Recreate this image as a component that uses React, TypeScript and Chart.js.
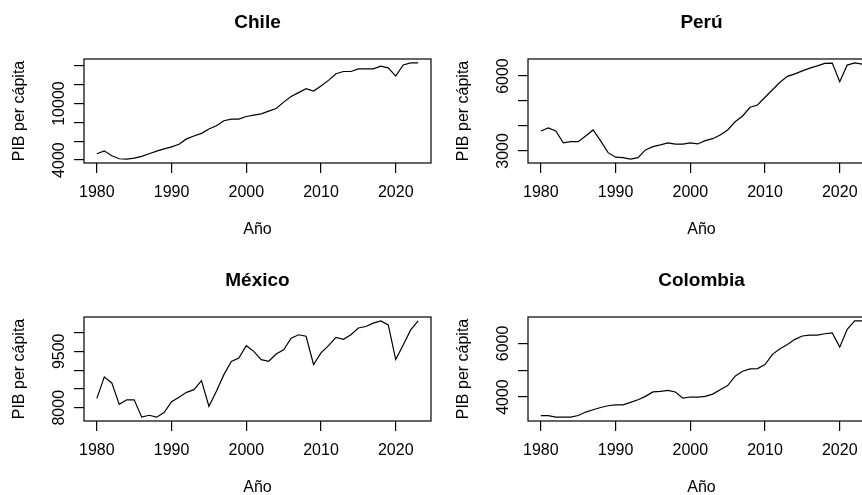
import React, { useEffect, useRef } from "react";
import { Chart, registerables } from "chart.js";

Chart.register(...registerables);

const years = [
  1980, 1981, 1982, 1983, 1984, 1985, 1986, 1987, 1988, 1989,
  1990, 1991, 1992, 1993, 1994, 1995, 1996, 1997, 1998, 1999,
  2000, 2001, 2002, 2003, 2004, 2005, 2006, 2007, 2008, 2009,
  2010, 2011, 2012, 2013, 2014, 2015, 2016, 2017, 2018, 2019,
  2020, 2021, 2022, 2023,
];

const chile = [
  4670, 4980, 4460, 4140, 4100, 4210, 4390, 4670, 4950, 5190,
  5400, 5680, 6250, 6560, 6840, 7300, 7650, 8180, 8350, 8350,
  8630, 8770, 8910, 9190, 9470, 10150, 10740, 11160, 11580, 11330,
  11860, 12460, 13160, 13400, 13400, 13680, 13680, 13680, 13960, 13790,
  12910, 14100, 14320, 14320,
];

const peru = [
  3800, 3920, 3800, 3320, 3370, 3370, 3600, 3840, 3400, 2930,
  2750, 2730, 2670, 2730, 3040, 3170, 3240, 3320, 3270, 3270,
  3320, 3280, 3410, 3490, 3640, 3840, 4170, 4400, 4750, 4840,
  5150, 5450, 5750, 5990, 6090, 6210, 6320, 6410, 6510, 6520,
  5770, 6440, 6530, 6480,
];

const mexico = [
  8250, 8820, 8660, 8090, 8210, 8210, 7750, 7800, 7750, 7870,
  8160, 8280, 8410, 8480, 8720, 8040, 8440, 8880, 9230, 9320,
  9650, 9500, 9280, 9235, 9430, 9540, 9850, 9940, 9900, 9150,
  9460, 9650, 9870, 9820, 9940, 10120, 10160, 10250, 10310, 10200,
  9280, 9670, 10070, 10310,
];

const colombia = [
  3310, 3310, 3250, 3250, 3250, 3310, 3440, 3525, 3610, 3675,
  3710, 3710, 3800, 3900, 4025, 4190, 4210, 4250, 4190, 3960,
  4000, 4000, 4025, 4110, 4275, 4425, 4775, 4960, 5050, 5060,
  5210, 5590, 5800, 5960, 6150, 6275, 6310, 6310, 6360, 6390,
  5860, 6525, 6840, 6840,
];

const yearTicks = [1980, 1990, 2000, 2010, 2020];

const chileTicks = [4000, 6000, 8000, 10000, 12000, 14000];
const chileTickLabels = [4000, 10000];
const peruTicks = [3000, 4000, 5000, 6000];
const peruTickLabels = [3000, 6000];
const mexicoTicks = [8000, 8500, 9000, 9500, 10000];
const mexicoTickLabels = [8000, 9500];
const colombiaTicks = [4000, 5000, 6000];
const colombiaTickLabels = [4000, 6000];

const xTitle = "Año";
const yTitle = "PIB per cápita";

const FONT = '"Liberation Sans", Arial, Helvetica, sans-serif';
Chart.defaults.font.family = FONT;

const PANEL_W = 444;
const PANEL_H = 258;

function rRange(vals: number[]): [number, number] {
  const lo = Math.min(...vals);
  const hi = Math.max(...vals);
  const d = (hi - lo) * 0.04;
  return [lo - d, hi + d];
}

const rBoxPlugin = {
  id: "rBox",
  afterDraw(chart: any, _args: any, opts: any) {
    const { ctx, chartArea: a } = chart;
    ctx.save();
    ctx.strokeStyle = "#000";
    ctx.lineWidth = 1.2;
    ctx.strokeRect(a.left, a.top, a.right - a.left, a.bottom - a.top);
    const ys = chart.scales.y;
    ctx.font = `16px ${FONT}`;
    ctx.fillStyle = "#000";
    ctx.textAlign = "center";
    ctx.textBaseline = "middle";
    for (const v of opts.labels || []) {
      const py = ys.getPixelForValue(v);
      ctx.save();
      ctx.translate(a.left - 24.5, py);
      ctx.rotate(-Math.PI / 2);
      ctx.fillText(String(v), 0, 0);
      ctx.restore();
    }
    ctx.restore();
  },
};

type PanelProps = {
  title: string;
  values: number[];
  ticks: number[];
  tickLabels: number[];
  left: number;
  top: number;
};

function Panel({ title, values, ticks, tickLabels, left, top }: PanelProps) {
  const ref = useRef<HTMLCanvasElement | null>(null);
  useEffect(() => {
    if (!ref.current) return;
    const [xmin, xmax] = rRange(years);
    const [ymin, ymax] = rRange(values);
    const chart = new Chart(ref.current, {
      type: "line",
      data: {
        datasets: [
          {
            data: years.map((y, i) => ({ x: y, y: values[i] })),
            borderColor: "#000",
            borderWidth: 1.2,
            pointRadius: 0,
            tension: 0,
            fill: false,
          },
        ],
      },
      options: {
        animation: false,
        responsive: false,
        devicePixelRatio: 1,
        layout: { padding: { left: 0, top: 0, right: 13, bottom: 0 } },
        plugins: {
          legend: { display: false },
          tooltip: { enabled: false },
          title: {
            display: true,
            text: title,
            fullSize: false,
            color: "#000",
            font: { size: 19, weight: "bold", family: FONT, lineHeight: 1.2 },
            padding: { top: 11.3, bottom: 24.9 },
          },
          rBox: { labels: tickLabels },
        } as any,
        scales: {
          x: {
            type: "linear",
            min: xmin,
            max: xmax,
            afterBuildTicks: (s: any) => {
              s.ticks = yearTicks.map((v) => ({ value: v }));
            },
            afterFit: (s: any) => {
              s.height = PANEL_H - 163;
            },
            border: { display: false },
            grid: {
              display: true,
              drawOnChartArea: false,
              drawTicks: true,
              tickLength: 10,
              color: "#000",
              lineWidth: 1.2,
            },
            ticks: {
              color: "#000",
              font: { size: 16, family: FONT, lineHeight: 1.2 },
              padding: 9.7,
              maxRotation: 0,
              minRotation: 0,
              autoSkip: false,
              callback: (v: any) => String(v),
            },
            title: {
              display: true,
              text: xTitle,
              color: "#000",
              font: { size: 16, family: FONT, lineHeight: 1.2 },
              padding: { top: 0, bottom: 18.4 },
            },
          },
          y: {
            type: "linear",
            min: ymin,
            max: ymax,
            afterBuildTicks: (s: any) => {
              s.ticks = ticks.map((v) => ({ value: v }));
            },
            afterFit: (s: any) => {
              s.width = 84;
            },
            border: { display: false },
            grid: {
              display: true,
              drawOnChartArea: false,
              drawTicks: true,
              tickLength: 10,
              color: "#000",
              lineWidth: 1.2,
            },
            ticks: { display: false },
            title: {
              display: true,
              text: yTitle,
              color: "#000",
              font: { size: 16, family: FONT, lineHeight: 1.2 },
              padding: { top: 10.4, bottom: 0 },
            },
          },
        },
      },
      plugins: [rBoxPlugin],
    } as any);
    return () => chart.destroy();
  }, [title, values, ticks, tickLabels]);

  return (
    <canvas
      ref={ref}
      width={PANEL_W}
      height={PANEL_H}
      style={{
        position: "absolute",
        left,
        top,
        width: PANEL_W,
        height: PANEL_H,
      }}
    />
  );
}

export default function App() {
  return (
    <div
      style={{
        position: "fixed",
        left: 0,
        top: 0,
        width: 862,
        height: 495,
        overflow: "hidden",
        background: "#fff",
      }}
    >
      <Panel title="Chile" values={chile} ticks={chileTicks} tickLabels={chileTickLabels} left={0} top={0} />
      <Panel title="Perú" values={peru} ticks={peruTicks} tickLabels={peruTickLabels} left={PANEL_W} top={0} />
      <Panel title="México" values={mexico} ticks={mexicoTicks} tickLabels={mexicoTickLabels} left={0} top={PANEL_H} />
      <Panel title="Colombia" values={colombia} ticks={colombiaTicks} tickLabels={colombiaTickLabels} left={PANEL_W} top={PANEL_H} />
    </div>
  );
}
